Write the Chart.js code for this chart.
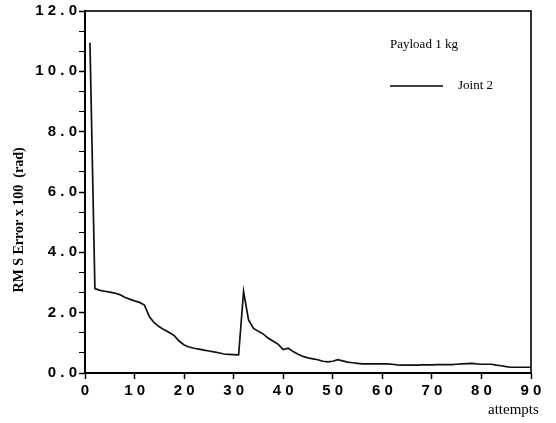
<!DOCTYPE html>
<html lang="en">
<head>
  <meta charset="UTF-8">
  <title>RMS Error vs attempts</title>
  <script src="https://cdn.jsdelivr.net/npm/chart.js"></script>
  <style>
    html, body {
      margin: 0;
      padding: 0;
      background: #fff;
    }
    #wrap {
      width: 556px;
      height: 423px;
    }
  </style>
</head>
<body>
  <div id="wrap">
    <canvas id="errChart" width="556" height="423"></canvas>
  </div>

  <script>
    // RMS error (x 100, rad) for joint 2, one value per attempt (1..90)
    const rmsError = [
      10.95, 2.80, 2.74, 2.71, 2.68, 2.65, 2.60, 2.51, 2.45, 2.39,
      2.34, 2.25, 1.86, 1.66, 1.53, 1.43, 1.34, 1.24, 1.06, 0.93,
      0.86, 0.82, 0.79, 0.76, 0.73, 0.70, 0.67, 0.63, 0.62, 0.61,
      0.60, 2.70, 1.76, 1.48, 1.38, 1.29, 1.15, 1.05, 0.95, 0.78,
      0.82, 0.71, 0.62, 0.55, 0.50, 0.47, 0.44, 0.39, 0.37, 0.39,
      0.44, 0.40, 0.36, 0.34, 0.32, 0.30, 0.30, 0.30, 0.30, 0.30,
      0.30, 0.29, 0.27, 0.26, 0.26, 0.26, 0.26, 0.27, 0.27, 0.27,
      0.28, 0.28, 0.28, 0.28, 0.29, 0.30, 0.31, 0.32, 0.30, 0.29,
      0.29, 0.29, 0.26, 0.24, 0.21, 0.19, 0.19, 0.19, 0.19, 0.19
    ];
    const xTicks = [0, 10, 20, 30, 40, 50, 60, 70, 80, 90];
    const yMajor = [0, 2, 4, 6, 8, 10, 12];

    const seriesLabel = 'Joint 2';
    const panelNote = 'Payload 1 kg';
    const yTitle = 'RM S Error x 100  (rad)';
    const xTitle = 'attempts';

    const points = rmsError.map((v, i) => ({ x: i + 1, y: v }));

    // spread the digits out like the old plotter labels
    const spaced = s => s.split('').join(' ');

    const tickFont = { family: "'Liberation Sans', Arial, sans-serif", size: 15, weight: 'bold' };
    const serif = "'Liberation Serif', 'Times New Roman', serif";

    // frame, inline legend and the axis titles
    const decorations = {
      id: 'decorations',
      afterDraw(chart) {
        const { ctx, chartArea: a } = chart;
        ctx.save();
        ctx.strokeStyle = '#000';
        ctx.lineWidth = 1.6;
        ctx.strokeRect(a.left, a.top, a.right - a.left, a.bottom - a.top);

        ctx.fillStyle = '#000';
        ctx.font = '13px ' + serif;
        ctx.textBaseline = 'middle';
        ctx.fillText(panelNote, 390, 45);

        ctx.lineWidth = 1.3;
        ctx.beginPath();
        ctx.moveTo(390, 86);
        ctx.lineTo(443, 86);
        ctx.stroke();
        ctx.fillText(seriesLabel, 458, 86);

        ctx.font = '15px ' + serif;
        ctx.fillText(xTitle, 488, 410);

        // y title runs bottom-to-top, centred a little below the plot middle
        ctx.translate(19, 220);
        ctx.rotate(-Math.PI / 2);
        ctx.textAlign = 'center';
        ctx.font = 'bold 14px ' + serif;
        ctx.fillText(yTitle, 0, 0);
        ctx.restore();
      }
    };

    new Chart(document.getElementById('errChart'), {
      type: 'line',
      data: {
        datasets: [{
          label: seriesLabel,
          data: points,
          borderColor: '#111',
          borderWidth: 1.7,
          pointRadius: 0,
          tension: 0,
          fill: false
        }]
      },
      options: {
        responsive: false,
        animation: false,
        layout: { padding: { top: 11, right: 25, left: 0, bottom: 0 } },
        plugins: {
          legend: { display: false },
          tooltip: { enabled: false }
        },
        scales: {
          x: {
            type: 'linear',
            min: 0,
            max: 90,
            afterBuildTicks: scale => {
              scale.ticks = xTicks.map(v => ({ value: v }));
            },
            afterFit: scale => { scale.height = 50; },
            border: { color: '#000', width: 2 },
            grid: { drawOnChartArea: false, tickLength: 6, tickColor: '#000', tickWidth: 1.5 },
            ticks: {
              color: '#000',
              font: tickFont,
              padding: 3,
              maxRotation: 0,
              callback: v => spaced(String(v))
            }
          },
          y: {
            min: 0,
            max: 12,
            afterBuildTicks: scale => {
              // majors every 2.0, two minor marks between them
              const t = [];
              for (let k = 0; k <= 18; k++) t.push({ value: k * 2 / 3 });
              scale.ticks = t;
            },
            afterFit: scale => { scale.width = 85; },
            border: { color: '#000', width: 2 },
            grid: {
              drawOnChartArea: false,
              tickLength: 6,
              tickColor: '#000',
              tickWidth: ctx => {
                const v = ctx.tick ? ctx.tick.value : 0;
                return yMajor.some(m => Math.abs(m - v) < 1e-6) ? 1.5 : 1;
              }
            },
            ticks: {
              color: '#000',
              font: tickFont,
              padding: 2,
              autoSkip: false,
              callback: v => {
                const m = yMajor.find(q => Math.abs(q - v) < 1e-6);
                return m === undefined ? '' : spaced(m.toFixed(1));
              }
            }
          }
        }
      },
      plugins: [decorations]
    });
  </script>
</body>
</html>
